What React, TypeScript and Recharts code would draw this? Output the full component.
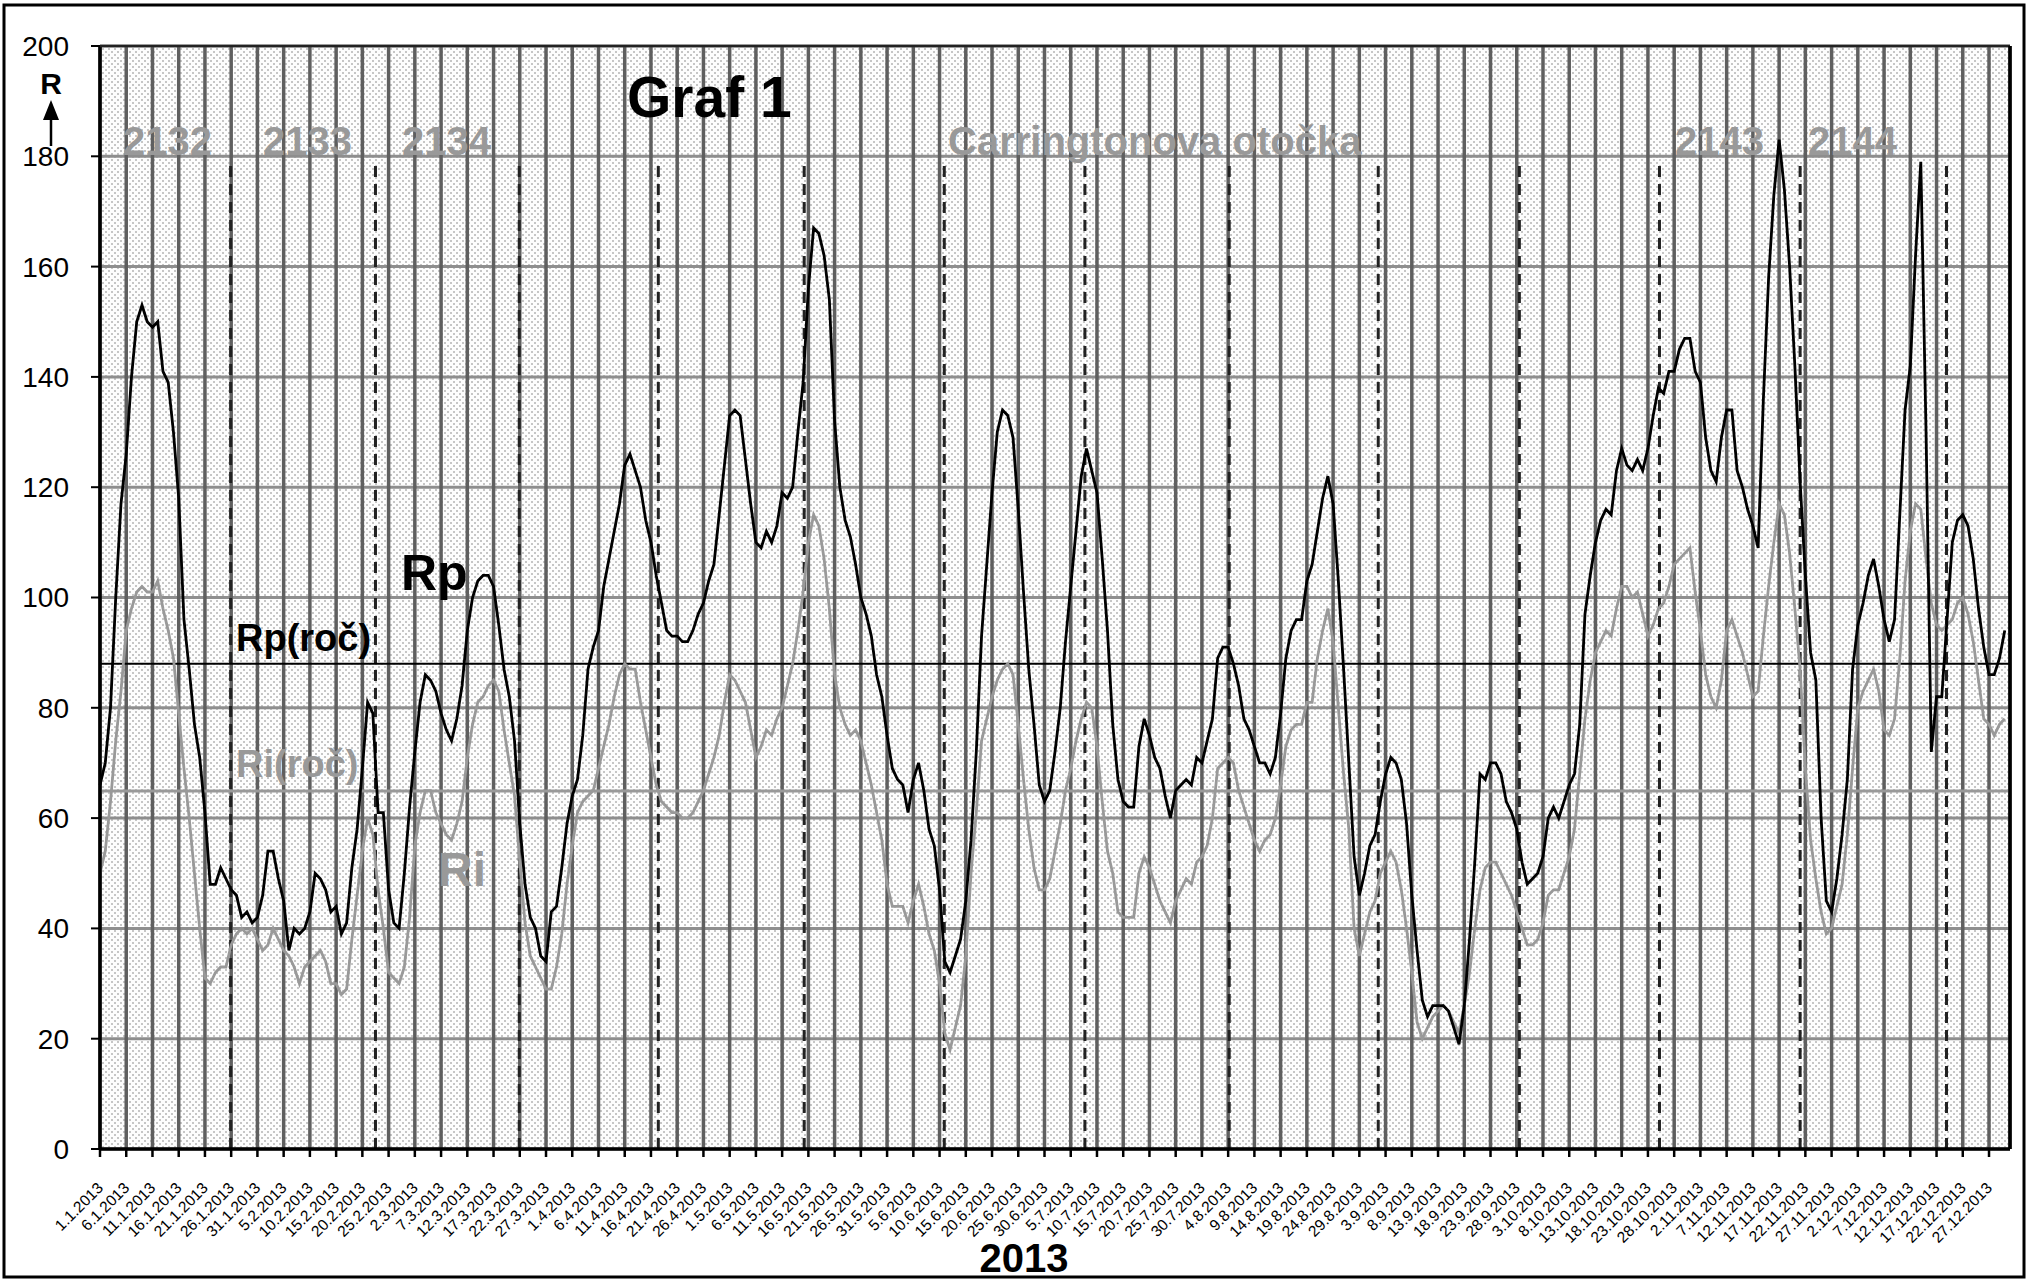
import React from 'react';
import { LineChart, Line, XAxis, YAxis, CartesianGrid, ReferenceLine } from 'recharts';

const FONT = "'Liberation Sans', Arial, sans-serif";

// daily relative sunspot numbers 2013 (day 1 = 1.1.2013)
const rpValues = [
  66, 70, 80, 100, 117, 126, 140, 150, 153, 150,
  149, 150, 141, 139, 130, 118, 96, 87, 77, 71,
  61, 48, 48, 51, 49, 47, 46, 42, 43, 41,
  42, 46, 54, 54, 49, 45, 36, 40, 39, 40,
  43, 50, 49, 47, 43, 44, 39, 41, 51, 58,
  69, 81, 79, 61, 61, 47, 41, 40, 50, 62,
  72, 81, 86, 85, 83, 79, 76, 74, 78, 84,
  94, 100, 103, 104, 104, 102, 95, 87, 82, 74,
  59, 48, 42, 40, 35, 34, 43, 44, 51, 59,
  64, 67, 75, 87, 91, 94, 102, 107, 112, 117,
  124, 126, 123, 120, 114, 110, 104, 99, 94, 93,
  93, 92, 92, 94, 97, 99, 103, 106, 115, 124,
  133, 134, 133, 125, 117, 110, 109, 112, 110, 113,
  119, 118, 120, 130, 139, 156, 167, 166, 162, 154,
  132, 120, 114, 111, 106, 100, 97, 93, 86, 82,
  75, 69, 67, 66, 61, 67, 70, 65, 58, 55,
  47, 34, 32, 35, 38, 45, 56, 72, 93, 106,
  119, 130, 134, 133, 129, 116, 101, 87, 77, 66,
  63, 65, 72, 80, 92, 102, 112, 122, 127, 123,
  119, 107, 94, 77, 67, 63, 62, 62, 73, 78,
  75, 71, 69, 64, 60, 65, 66, 67, 66, 71,
  70, 74, 78, 89, 91, 91, 88, 84, 78, 76,
  73, 70, 70, 68, 71, 79, 89, 94, 96, 96,
  103, 106, 112, 118, 122, 117, 103, 87, 70, 53,
  46, 50, 55, 57, 63, 68, 71, 70, 67, 59,
  46, 36, 27, 24, 26, 26, 26, 25, 22, 19,
  26, 38, 52, 68, 67, 70, 70, 68, 63, 61,
  58, 52, 48, 49, 50, 53, 60, 62, 60, 63,
  66, 68, 77, 97, 104, 110, 114, 116, 115, 123,
  127, 124, 123, 125, 123, 127, 133, 138, 137, 141,
  141, 145, 147, 147, 141, 139, 129, 123, 121, 129,
  134, 134, 123, 120, 116, 113, 109, 136, 158, 173,
  183, 174, 160, 142, 121, 104, 90, 85, 60, 45,
  43, 49, 57, 67, 87, 95, 99, 104, 107, 102,
  96, 92, 96, 115, 134, 142, 162, 179, 130, 72,
  82, 82, 96, 110, 114, 115, 113, 107, 98, 91,
  86, 86, 89, 94,
];

const riValues = [
  50, 54, 63, 74, 83, 94, 98, 101, 102, 101,
  101, 103, 98, 94, 89, 79, 69, 60, 50, 40,
  31, 30, 32, 33, 33, 37, 39, 40, 39, 40,
  38, 36, 37, 40, 38, 36, 35, 33, 30, 33,
  34, 35, 36, 34, 30, 30, 28, 29, 38, 46,
  54, 60, 57, 47, 40, 32, 31, 30, 33, 42,
  55, 61, 65, 65, 61, 59, 57, 56, 59, 63,
  71, 77, 81, 82, 84, 85, 83, 76, 70, 64,
  52, 41, 35, 33, 31, 29, 29, 33, 39, 48,
  55, 61, 63, 64, 65, 69, 73, 77, 82, 86,
  88, 87, 87, 81, 76, 71, 66, 63, 62, 61,
  61, 60, 60, 61, 63, 65, 68, 71, 75, 81,
  86, 85, 83, 81, 76, 71, 73, 76, 75, 78,
  80, 84, 88, 94, 101, 110, 115, 113, 107, 98,
  86, 80, 77, 75, 76, 74, 70, 66, 61, 56,
  48, 44, 44, 44, 41, 45, 48, 44, 39, 36,
  30, 21, 18, 22, 26, 35, 50, 61, 74, 78,
  82, 85, 87, 88, 86, 77, 67, 58, 51, 47,
  47, 49, 54, 59, 65, 69, 74, 78, 81, 80,
  73, 63, 54, 50, 43, 42, 42, 42, 50, 53,
  51, 48, 45, 43, 41, 45, 47, 49, 48, 52,
  53, 55, 60, 69, 70, 71, 70, 65, 62, 59,
  56, 54, 56, 57, 60, 66, 73, 76, 77, 77,
  81, 81, 89, 94, 98, 92, 80, 68, 58, 40,
  35, 39, 43, 45, 50, 52, 54, 52, 47, 40,
  32, 23, 20, 22, 24, 25, 26, 25, 23, 21,
  26, 32, 40, 47, 51, 52, 52, 50, 48, 46,
  43, 40, 37, 37, 38, 41, 46, 47, 47, 50,
  53, 58, 68, 78, 85, 90, 92, 94, 93, 98,
  102, 102, 100, 101, 97, 93, 95, 98, 99, 102,
  106, 107, 108, 109, 101, 94, 86, 82, 80, 85,
  94, 96, 93, 90, 86, 82, 83, 93, 102, 110,
  117, 115, 108, 98, 87, 69, 56, 49, 43, 39,
  40, 44, 48, 57, 69, 80, 83, 85, 87, 83,
  76, 75, 78, 89, 103, 112, 117, 116, 107, 99,
  95, 94, 95, 96, 99, 100, 97, 92, 85, 78,
  77, 75, 77, 78,
];

// yearly means
const rpYear = 88;
const riYear = 64.9;

// start of Carrington rotations (day of year)
const rotationDays = [25.9, 53.5, 80.9, 107.4, 135.2, 161.9, 188.7, 216.2, 244.6, 271.5, 298.2, 325, 352.9];

const dateLabels = [
  '1.1.2013', '6.1.2013', '11.1.2013', '16.1.2013', '21.1.2013', '26.1.2013', '31.1.2013',
  '5.2.2013', '10.2.2013', '15.2.2013', '20.2.2013', '25.2.2013',
  '2.3.2013', '7.3.2013', '12.3.2013', '17.3.2013', '22.3.2013', '27.3.2013',
  '1.4.2013', '6.4.2013', '11.4.2013', '16.4.2013', '21.4.2013', '26.4.2013',
  '1.5.2013', '6.5.2013', '11.5.2013', '16.5.2013', '21.5.2013', '26.5.2013', '31.5.2013',
  '5.6.2013', '10.6.2013', '15.6.2013', '20.6.2013', '25.6.2013', '30.6.2013',
  '5.7.2013', '10.7.2013', '15.7.2013', '20.7.2013', '25.7.2013', '30.7.2013',
  '4.8.2013', '9.8.2013', '14.8.2013', '19.8.2013', '24.8.2013', '29.8.2013',
  '3.9.2013', '8.9.2013', '13.9.2013', '18.9.2013', '23.9.2013', '28.9.2013',
  '3.10.2013', '8.10.2013', '13.10.2013', '18.10.2013', '23.10.2013', '28.10.2013',
  '2.11.2013', '7.11.2013', '12.11.2013', '17.11.2013', '22.11.2013', '27.11.2013',
  '2.12.2013', '7.12.2013', '12.12.2013', '17.12.2013', '22.12.2013', '27.12.2013',
];

const yTicks = [0, 20, 40, 60, 80, 100, 120, 140, 160, 180, 200];

const tickDays = dateLabels.map((_, i) => 1 + i * 5);
const data = rpValues.map((v, i) => ({ day: i + 1, rp: v, ri: riValues[i] }));

const GRAY = '#999999';

function DateTick(props: any) {
  const { x, y, payload } = props;
  const idx = tickDays.indexOf(payload.value);
  const ax = x + 4;
  const ay = y + 30;
  return (
    <text x={ax} y={ay} transform={`rotate(-45 ${ax} ${ay})`} textAnchor="end" fontSize={15.5} fill="#000" fontFamily={FONT}>
      {dateLabels[idx]}
    </text>
  );
}

export default function App() {
  const dots =
    'radial-gradient(circle, #c6c6c6 0.8px, transparent 1.2px) 0 0 / 6px 6px, ' +
    'radial-gradient(circle, #c6c6c6 0.8px, transparent 1.2px) 3px 3px / 6px 6px, #fdfdfd';

  return (
    <div style={{ position: 'absolute', left: 0, top: 0, width: 2028, height: 1281, background: '#fff', fontFamily: FONT }}>
      {/* stippled plot background */}
      <div style={{ position: 'absolute', left: 100, top: 46, width: 1910, height: 1103, background: dots }} />

      <div style={{ position: 'absolute', left: 0, top: 0 }}>
        <LineChart width={2028} height={1281} data={data} margin={{ top: 46, right: 18, bottom: 0, left: 40 }}>
          <CartesianGrid vertical={false} stroke="#8e8e8e" strokeWidth={3} />
          <CartesianGrid horizontal={false} stroke="#5f5f5f" strokeWidth={3.5} />
          <XAxis
            type="number"
            dataKey="day"
            domain={[1, 365]}
            ticks={tickDays}
            interval={0}
            height={132}
            tickSize={8}
            axisLine={{ stroke: '#000', strokeWidth: 3.5 }}
            tickLine={{ stroke: '#000', strokeWidth: 2.5 }}
            tick={<DateTick />}
          />
          <YAxis
            domain={[0, 200]}
            ticks={yTicks}
            interval={0}
            width={60}
            tickSize={9}
            tickMargin={22}
            axisLine={{ stroke: '#000', strokeWidth: 3.5 }}
            tickLine={{ stroke: '#000', strokeWidth: 2 }}
            tick={{ fontSize: 28, fill: '#000', fontFamily: FONT }}
          />
          {rotationDays.map((d) => (
            <ReferenceLine
              key={d}
              segment={[{ x: d, y: 0 }, { x: d, y: 178.5 }]}
              stroke="#222"
              strokeWidth={3}
              strokeDasharray="11 7"
            />
          ))}
          <ReferenceLine y={riYear} stroke={GRAY} strokeWidth={3} />
          <ReferenceLine y={rpYear} stroke="#000" strokeWidth={2} />
          <Line type="linear" dataKey="ri" stroke={GRAY} strokeWidth={2.8} dot={false} isAnimationActive={false} />
          <Line type="linear" dataKey="rp" stroke="#000" strokeWidth={2.8} dot={false} isAnimationActive={false} />
        </LineChart>
      </div>

      <svg width={2028} height={1281} style={{ position: 'absolute', left: 0, top: 0, pointerEvents: 'none' }} fontFamily={FONT}>
        {/* frames */}
        <rect x={4} y={5} width={2020} height={1272} fill="none" stroke="#000" strokeWidth={3} />
        <line x1={100} y1={46} x2={2010} y2={46} stroke="#222" strokeWidth={2.5} />
        <line x1={2010} y1={46} x2={2010} y2={1149} stroke="#000" strokeWidth={3.5} />

        {/* y axis caption */}
        <text x={51} y={94} textAnchor="middle" fontSize={30} fontWeight="bold">R</text>
        <line x1={51} y1={146} x2={51} y2={112} stroke="#000" strokeWidth={2.5} />
        <path d="M 43 120 L 51 100 L 59 120 Z" fill="#000" />

        <text x={627} y={117} fontSize={57} fontWeight="bold" fill="#000">Graf 1</text>

        <g fontSize={40} fontWeight="bold" fill={GRAY}>
          <text x={123} y={155}>2132</text>
          <text x={263} y={155}>2133</text>
          <text x={402} y={155}>2134</text>
          <text x={948} y={155}>Carringtonova otočka</text>
          <text x={1675} y={155}>2143</text>
          <text x={1808} y={155}>2144</text>
        </g>

        <text x={401} y={590} fontSize={50} fontWeight="bold" fill="#000">Rp</text>
        <text x={236} y={651} fontSize={38} fontWeight="bold" fill="#000">Rp(roč)</text>
        <text x={236} y={777} fontSize={38} fontWeight="bold" fill={GRAY}>Ri(roč)</text>
        <text x={438} y={886} fontSize={48} fontWeight="bold" fill={GRAY}>Ri</text>

        <text x={1024} y={1272} textAnchor="middle" fontSize={40} fontWeight="bold" fill="#000">2013</text>
      </svg>
    </div>
  );
}
